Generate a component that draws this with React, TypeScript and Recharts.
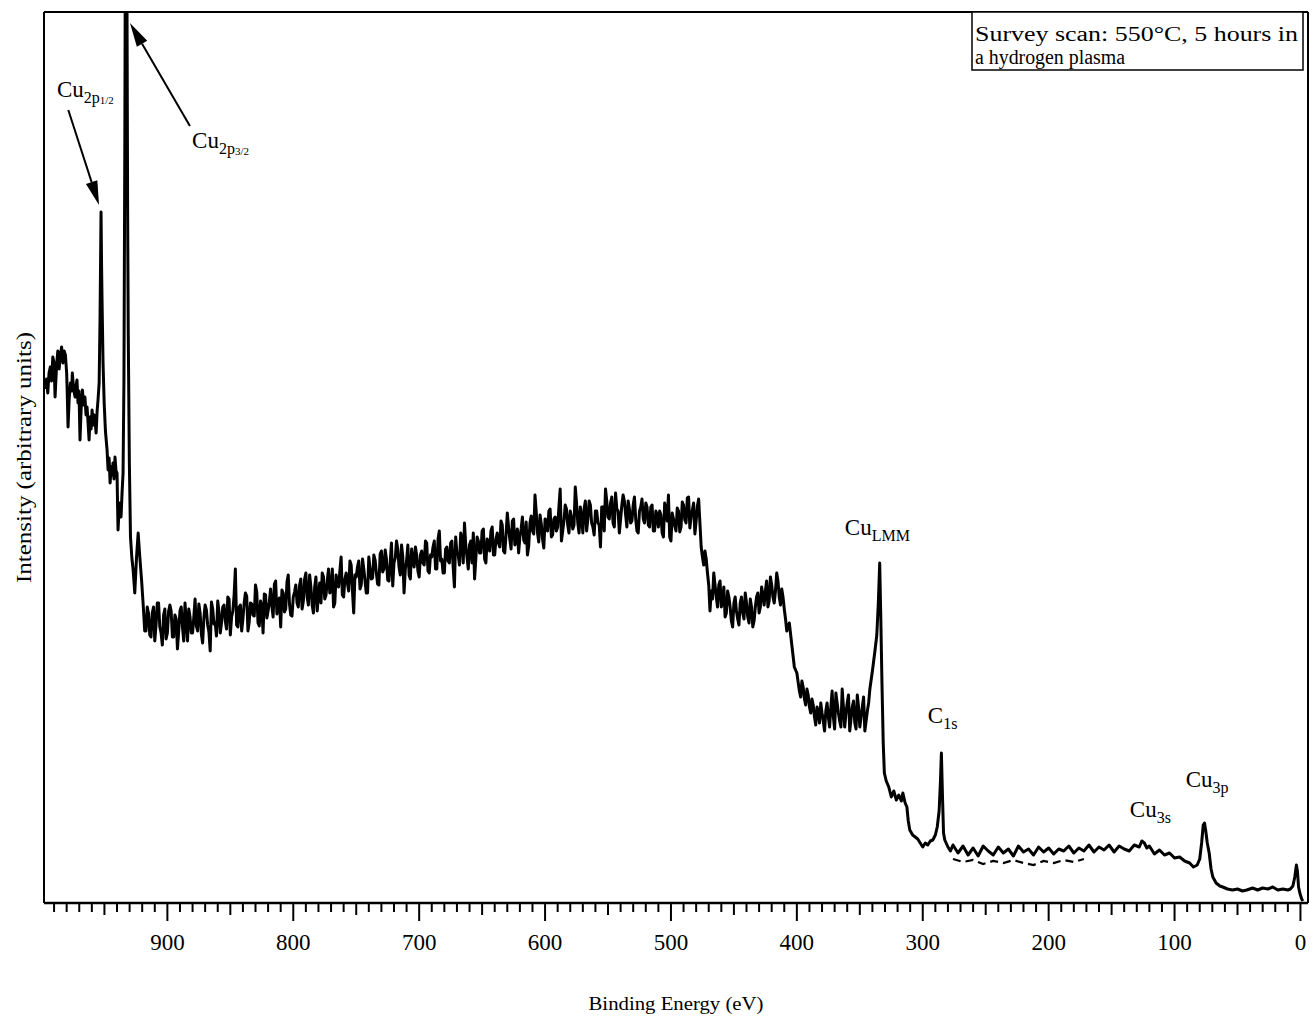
import { LineChart, Line, XAxis, YAxis, ReferenceLine, ReferenceDot } from 'recharts'

// [binding energy (eV), intensity] — high-energy end first
const cu2pRegion: [number, number][] = [
  [997, 514], [996, 524], [995, 510], [994, 530], [993, 536], [992, 522], [991, 546], [990, 540],
  [989.2, 506], [988, 538], [987, 552], [986, 534], [985, 548], [984, 556], [983, 540], [982, 552],
  [981, 548], [980, 530], [979.6, 513], [978.9, 476], [978, 504], [977, 520], [976, 512], [975.5, 530],
  [974.5, 514], [973.3, 506], [972.5, 518], [971.8, 523], [971, 500], [970.2, 512], [969.4, 463],
  [968.5, 494], [967.5, 513], [966.5, 498], [965.5, 506], [964.6, 488], [963.8, 496], [963, 480],
  [962.2, 463], [961.4, 486], [960.6, 474], [959.8, 493], [959, 478], [958.2, 488], [957.5, 483],
  [956.6, 470], [955.8, 492], [955.1, 503], [954.2, 520], [953.5, 583], [953, 650], [952.7, 691],
  [952.3, 640], [951.9, 603], [951.1, 540], [950.2, 500], [949.2, 472], [947.9, 453], [947.1, 433],
  [946.3, 445], [945.5, 420], [944.6, 436], [943.8, 428], [943.2, 440], [942.4, 424], [941.6, 446],
  [940.8, 432], [940, 430], [939.2, 373], [938.4, 392], [937.6, 400], [936.8, 386], [936, 410],
  [935.2, 430], [934.5, 523], [933.8, 760], [933.3, 1000], [932.3, 1000], [931.6, 700], [931.1, 573],
  [930.2, 440], [929.3, 366], [928.2, 345], [927.2, 333], [925.9, 310], [924.5, 346], [923.2, 370],
  [921.9, 346], [920.5, 323], [919.3, 300],
]

// inelastic background, 1 eV channels from 918 eV down to 478 eV
const backgroundStart = 918
// even channels: 918, 916, ... 478
const backgroundEven = [
  272, 296, 268, 290, 262, 300, 276, 258, 294, 270,
  298, 266, 288, 254, 292, 276, 300, 262, 286, 270,
  304, 272, 290, 260, 298, 278, 252, 294, 280, 302,
  270, 296, 282, 306, 268, 292, 334, 276, 298, 284,
  310, 272, 300, 288, 318, 280, 302, 270, 308, 292,
  314, 286, 322, 298, 276, 310, 294, 328, 288, 306,
  318, 296, 324, 302, 330, 298, 316, 290, 326, 308,
  300, 326, 308, 334, 312, 296, 328, 316, 346, 306,
  330, 312, 338, 290, 326, 342, 318, 334, 310, 346,
  324, 348, 330, 318, 352, 334, 344, 322, 360, 340,
  362, 336, 358, 310, 342, 328, 354, 336, 348, 326,
  352, 338, 360, 330, 346, 362, 334, 372, 344, 330,
  356, 340, 362, 316, 350, 338, 364, 380, 346, 358,
  340, 324, 366, 350, 372, 344, 364, 352, 376, 348,
  370, 356, 378, 350, 390, 364, 382, 358, 374, 366,
  386, 360, 348, 380, 372, 408, 370, 388, 364, 384,
  372, 394, 368, 386, 376, 414, 372, 398, 378, 392,
  374, 416, 380, 396, 370, 402, 384, 398, 376, 392,
  380, 356, 396, 414, 386, 400, 380, 410, 392, 384,
  408, 388, 402, 380, 398, 384, 370, 396, 384, 400,
  378, 396, 372, 392, 376, 388, 366, 394, 408, 362,
  384, 372, 392, 376, 398, 380, 406, 386, 400, 382, 404,
]
// odd channels: 917, 915, ... 479
const backgroundOdd = [
  272, 290, 266, 296, 278, 300, 270, 288, 264, 292,
  292, 266, 284, 272, 296, 262, 282, 294, 270, 286,
  277, 299, 269, 285, 293, 271, 301, 279, 267, 291,
  280, 298, 274, 304, 286, 308, 278, 296, 272, 300,
  307, 281, 299, 287, 311, 277, 297, 309, 285, 301,
  297, 319, 289, 305, 313, 291, 321, 299, 287, 311,
  300, 318, 294, 324, 306, 328, 298, 316, 292, 320,
  330, 304, 322, 310, 334, 300, 320, 332, 308, 324,
  320, 342, 312, 328, 336, 314, 344, 322, 310, 334,
  325, 343, 319, 349, 331, 353, 323, 341, 317, 345,
  354, 328, 346, 334, 358, 324, 344, 356, 332, 348,
  340, 362, 332, 348, 356, 334, 364, 342, 330, 354,
  342, 360, 336, 366, 348, 370, 340, 358, 334, 362,
  370, 344, 362, 350, 374, 340, 360, 372, 348, 364,
  360, 382, 352, 368, 376, 354, 384, 362, 350, 374,
  363, 381, 357, 387, 369, 391, 361, 379, 355, 383,
  392, 366, 384, 372, 396, 362, 382, 394, 370, 386,
  378, 400, 370, 386, 394, 372, 402, 380, 368, 392,
  378, 396, 372, 402, 384, 406, 376, 394, 370, 398,
  402, 376, 394, 382, 406, 372, 392, 404, 380, 396,
  376, 398, 372, 388, 392, 370, 400, 382, 366, 390,
  377, 395, 371, 401, 383, 405, 375, 393, 369, 397,
]

const augerRegion: [number, number][] = [
  [476, 356], [475, 346], [474, 338], [473, 352], [472, 344], [471, 330], [470, 318], [469, 292],
  [468, 312], [467, 304], [466, 330], [465, 318], [464, 306], [463, 296], [462, 318], [461, 322],
  [460, 296], [459, 302], [458, 316], [457, 286], [456, 290], [455, 312], [454, 306], [453, 296],
  [452, 282], [451, 276], [450, 300], [449, 306], [448, 292], [447, 284], [446, 278], [445, 300],
  [444, 306], [443, 290], [442, 284], [441, 310], [440, 300], [439, 286], [438, 280], [437, 304],
  [436, 296], [435, 276], [434, 282], [433, 296], [432, 306], [431, 310], [430, 290], [429, 296],
  [428, 316], [427, 308], [426, 298], [425, 312], [424, 322], [423, 296], [422, 302], [421, 326],
  [420, 318], [419, 306], [418, 300], [417, 312], [416, 330], [415, 322], [414, 306], [413, 298],
  [412, 314], [411, 306], [410, 294], [409, 284], [408, 272], [406, 280], [404, 258], [402, 236],
  [400, 230], [398, 212], [397, 206], [396, 222], [395, 216], [394, 204], [393, 198], [392, 214],
  [391, 208], [390, 196], [389, 190], [388, 204], [387, 198], [386, 186], [385, 178], [384, 196],
  [383, 192], [382, 180], [381, 200], [380, 190], [379, 182], [378, 172], [377, 192], [376, 200],
  [375, 186], [374, 176], [373, 196], [372, 212], [371, 186], [370, 174], [369, 210], [368, 200],
  [367, 190], [366, 182], [365, 176], [364, 214], [363, 196], [362, 176], [361, 190], [360, 200],
  [359, 208], [358, 172], [357, 184], [356, 196], [355, 202], [354, 180], [353, 174], [352, 208],
  [351, 196], [350, 176], [349, 186], [348, 196], [347, 206], [346, 172], [345, 182], [344, 192],
  [343, 200], [342, 214], [340, 232], [338, 252], [336.5, 268],
  [335.3, 300], [334.2, 340], [333.4, 290], [332.4, 220], [331.4, 160], [330.5, 130], [329, 122],
  [327, 116], [325, 106], [323, 112], [321, 103], [319, 108], [317, 102], [315.8, 110], [314, 100],
  [312.6, 96], [311.5, 82], [310.3, 73], [308, 68], [306, 66], [304, 64], [302, 60], [300, 56],
  [298, 60], [296, 58], [294, 62], [292, 63], [290, 68], [288.5, 76], [287, 92], [286, 120],
  [285.2, 150], [284.4, 110], [283.5, 70], [282.5, 63],
]

const valenceRegion: [number, number][] = [
  [280, 56], [278, 52], [276, 58], [272, 50], [268, 57], [264, 48], [260, 55], [256, 47], [252, 57],
  [248, 52], [244, 48], [240, 56], [236, 50], [232, 54], [228, 47], [224, 57], [220, 51], [216, 54],
  [212, 48], [208, 56], [204, 51], [200, 55], [196, 49], [192, 54], [188, 52], [184, 57], [180, 50],
  [176, 55], [172, 52], [168, 58], [164, 51], [160, 56], [156, 53], [152, 58], [148, 51], [144, 57],
  [140, 54], [136, 52], [132, 58], [128, 56], [126, 62], [124, 60], [122, 55], [120, 57], [116, 49],
  [112, 53], [108, 48], [104, 50], [100, 45], [96, 46], [92, 42], [88, 40], [85, 36], [82, 38],
  [80, 44], [78.5, 60], [77.2, 78], [76.2, 80], [75.2, 72], [74, 60], [72.5, 50], [71, 34],
  [69.6, 26], [67, 20], [64, 17], [61.7, 16], [58, 14], [54, 13], [50, 14], [46, 12], [42.6, 13],
  [38, 15], [34, 13], [30, 15], [26, 14], [22, 16], [18, 13], [14, 14], [10, 13], [8, 14], [6, 17],
  [4.5, 26], [3.2, 38], [2.4, 32], [1.5, 16], [0.5, 10], [-1, 4], [-2, 2],
]

// second (dashed) trace under the flat stretch
const overlayTrace: [number, number][] = [
  [276, 44], [268, 41], [260, 43], [252, 39], [244, 42], [236, 40], [228, 43], [220, 40],
  [212, 38], [204, 42], [196, 40], [188, 43], [180, 41], [172, 44],
]

const energyLabels = [900, 800, 700, 600, 500, 400, 300, 200, 100, 0]

const peakLabels = [
  { base: 'Cu', sub: '2p', subsub: '1/2', ev: 987.7, counts: 806 },
  { base: 'Cu', sub: '2p', subsub: '3/2', ev: 880.4, counts: 755 },
  { base: 'Cu', sub: 'LMM', ev: 361.9, counts: 368 },
  { base: 'C', sub: '1s', ev: 296, counts: 180 },
  { base: 'Cu', sub: '3s', ev: 135.5, counts: 86 },
  { base: 'Cu', sub: '3p', ev: 91.1, counts: 116 },
]

const arrows = [
  { from: [978.7, 793], to: [954.3, 698] },
  { from: [882.1, 777], to: [929.7, 880] },
]

const background: number[][] = backgroundEven.flatMap((c, i) =>
  i < backgroundOdd.length
    ? [[backgroundStart - 2 * i, c], [backgroundStart - 2 * i - 1, backgroundOdd[i]]]
    : [[backgroundStart - 2 * i, c]]
)

const spectrum = [...cu2pRegion, ...background, ...augerRegion, ...valenceRegion]
  .sort((a, b) => b[0] - a[0])
  .map(([ev, counts]) => ({ ev, counts }))

const overlay = overlayTrace.map(([ev, counts]) => ({ ev, counts }))

const tickValues = Array.from({ length: 100 }, (_, i) => i * 10)

const SERIF = "'Liberation Serif', 'DejaVu Serif', serif"

function EnergyTick({ x, y, payload }: any) {
  const v = payload.value
  const len = v % 100 === 0 ? 18 : v % 50 === 0 ? 12 : 9
  return (
    <g>
      <line x1={x} y1={y} x2={x} y2={y + len} stroke="#000" strokeWidth={2} />
      {energyLabels.includes(v) && (
        <text x={x} y={y + 47} textAnchor="middle" fontSize={23} fontFamily={SERIF} fill="#000">
          {v}
        </text>
      )}
    </g>
  )
}

function PeakLabel({ cx, cy, base, sub, subsub }: any) {
  return (
    <text x={cx} y={cy} fontSize={23} fontFamily={SERIF} fill="#000">
      {base}
      <tspan fontSize={16} dy={6}>{sub}</tspan>
      {subsub && <tspan fontSize={11} dy={1}>{subsub}</tspan>}
    </text>
  )
}

function Arrow({ x1, y1, x2, y2 }: any) {
  const dx = x2 - x1
  const dy = y2 - y1
  const len = Math.hypot(dx, dy)
  const ux = dx / len
  const uy = dy / len
  const head = 24
  const half = 6
  const bx = x2 - ux * head
  const by = y2 - uy * head
  const pts = `${x2},${y2} ${bx - uy * half},${by + ux * half} ${bx + uy * half},${by - ux * half}`
  return (
    <g>
      <line x1={x1} y1={y1} x2={bx} y2={by} stroke="#000" strokeWidth={2} />
      <polygon points={pts} fill="#000" />
    </g>
  )
}

function YTitle({ viewBox }: any) {
  const cx = (viewBox?.x ?? 0) + 31
  const cy = (viewBox?.y ?? 12) + (viewBox?.height ?? 891) / 2
  return (
    <text
      x={cx}
      y={cy}
      transform={`rotate(-90 ${cx} ${cy})`}
      textAnchor="middle"
      fontSize={21}
      fontFamily={SERIF}
      fill="#000"
      textLength={251}
      lengthAdjust="spacingAndGlyphs"
    >
      Intensity (arbitrary units)
    </text>
  )
}

function XTitle({ viewBox }: any) {
  const cx = (viewBox?.x ?? 44) + (viewBox?.width ?? 1264) / 2
  const cy = (viewBox?.y ?? 903) + 107
  return (
    <text
      x={cx}
      y={cy}
      textAnchor="middle"
      fontSize={18}
      fontFamily={SERIF}
      fill="#000"
      textLength={175}
      lengthAdjust="spacingAndGlyphs"
    >
      Binding Energy (eV)
    </text>
  )
}

export default function App() {
  return (
    <div style={{ position: 'absolute', left: 0, top: 0, width: 1313, height: 1017, background: '#fff' }}>
      <LineChart width={1313} height={1017} margin={{ top: 12, right: 5, left: 0, bottom: 0 }}>
        <XAxis
          dataKey="ev"
          type="number"
          domain={[-6, 998]}
          reversed
          allowDataOverflow
          ticks={tickValues}
          interval={0}
          tickSize={0}
          tickMargin={0}
          tickLine={false}
          tick={<EnergyTick />}
          height={114}
          axisLine={{ stroke: '#000', strokeWidth: 2.5 }}
          label={<XTitle />}
        />
        <YAxis
          type="number"
          domain={[0, 891]}
          allowDataOverflow
          width={44}
          tick={false}
          tickLine={false}
          axisLine={{ stroke: '#000', strokeWidth: 2 }}
          label={<YTitle />}
        />
        <ReferenceLine y={891} stroke="#000" strokeWidth={2} />
        <ReferenceLine x={-6} stroke="#000" strokeWidth={2} />
        <Line
          data={spectrum}
          dataKey="counts"
          type="linear"
          stroke="#000"
          strokeWidth={3}
          strokeLinejoin="round"
          dot={false}
          isAnimationActive={false}
        />
        <Line
          data={overlay}
          dataKey="counts"
          type="linear"
          stroke="#000"
          strokeWidth={2.2}
          strokeDasharray="8 5"
          dot={false}
          isAnimationActive={false}
        />
        {arrows.map((a, i) => (
          <ReferenceLine
            key={`arrow-${i}`}
            segment={[{ x: a.from[0], y: a.from[1] }, { x: a.to[0], y: a.to[1] }]}
            shape={(p: any) => <Arrow {...p} />}
          />
        ))}
        {peakLabels.map((l, i) => (
          <ReferenceDot
            key={`peak-${i}`}
            x={l.ev}
            y={l.counts}
            r={0}
            shape={(p: any) => <PeakLabel cx={p.cx} cy={p.cy} base={l.base} sub={l.sub} subsub={l.subsub} />}
          />
        ))}
      </LineChart>
      <svg
        width={340}
        height={70}
        style={{ position: 'absolute', left: 970, top: 10, pointerEvents: 'none' }}
      >
        <rect x={2} y={2} width={331} height={58} fill="#fff" stroke="#000" strokeWidth={1.5} />
        <text x={5} y={31} fontSize={20} fontFamily={SERIF} fill="#000" textLength={323} lengthAdjust="spacingAndGlyphs">
          Survey scan:  550°C, 5 hours in
        </text>
        <text x={5} y={54} fontSize={20} fontFamily={SERIF} fill="#000" textLength={150} lengthAdjust="spacingAndGlyphs">
          a hydrogen plasma
        </text>
      </svg>
    </div>
  )
}
